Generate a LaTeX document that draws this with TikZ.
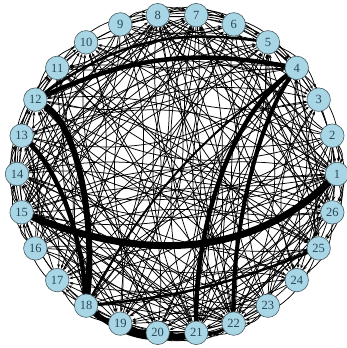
\documentclass[tikz,border=0pt]{standalone}
\usepackage{fontspec}
\setmainfont{Liberation Serif}
\usetikzlibrary{arrows.meta}
\definecolor{vfill}{RGB}{168,214,228}
\definecolor{vdraw}{RGB}{70,90,100}
\definecolor{vtext}{RGB}{40,70,90}
\pgfdeclarelayer{bg}
\pgfsetlayers{bg,main}
\begin{document}
\begin{tikzpicture}[x=1pt,y=1pt,
  vtx/.style={circle,fill=vfill,draw=vdraw,line width=0.6pt,minimum size=23.5pt,inner sep=0pt,
              text=vtext,font=\fontsize{12.5}{12.5}\selectfont},
  thin edge/.style={black,line width=0.75pt,-{Stealth[length=4pt,width=3pt]},bend left=26},
  heavy/.style={black,line cap=round}]
\useasboundingbox (0,0) rectangle (347,348);
\foreach \i in {1,...,26}{
  \pgfmathsetmacro\ang{(\i-1)*360/26}
  \node[vtx] (n\i) at ({177+160*cos(\ang)},{174+160*sin(\ang)}) {\i};
}
\begin{pgfonlayer}{bg}
\foreach \a in {1,...,26}{
  \foreach \b in {1,...,26}{
    \pgfmathtruncatemacro\h{mod(\a*\a*7+\b*\b*11+\a*\b*3+\a+2*\b,7)}
    \ifnum\a=\b\else
      \ifnum\h<3
        \draw[thin edge] (n\a) to (n\b);
      \fi
    \fi
  }
}
% heavy edges
\draw[heavy,line width=7pt] (n15) .. controls (120,95) and (240,80) .. (n1);
\draw[heavy,line width=6pt] (n12) .. controls (80,220) and (95,120) .. (n18);
\draw[heavy,line width=4.5pt] (n13) .. controls (60,175) and (82,110) .. (n18);
\draw[heavy,line width=4.5pt] (n12) to[bend left=17] (n4);
\draw[heavy,line width=2.5pt] (n12) to[bend left=22] (n5);
\draw[heavy,line width=4.5pt] (n4) .. controls (230,230) and (195,120) .. (n21);
\draw[heavy,line width=4pt] (n4) .. controls (255,220) and (232,110) .. (n22);
\draw[heavy,line width=2pt] (n4) to[bend right=12] (n18);
\draw[heavy,line width=2.5pt] (n25) to[bend left=8] (n18);
\draw[heavy,line width=5pt] (n18) to[bend right=15] (n19);
\draw[heavy,line width=7pt] (n19) to[bend right=15] (n20);
\draw[heavy,line width=7pt] (n20) to[bend right=15] (n21);
\draw[heavy,line width=5pt] (n18) to[bend right=25] (n21);
\draw[heavy,line width=3pt] (n21) to[bend right=15] (n22);
\end{pgfonlayer}
\end{tikzpicture}
\end{document}
